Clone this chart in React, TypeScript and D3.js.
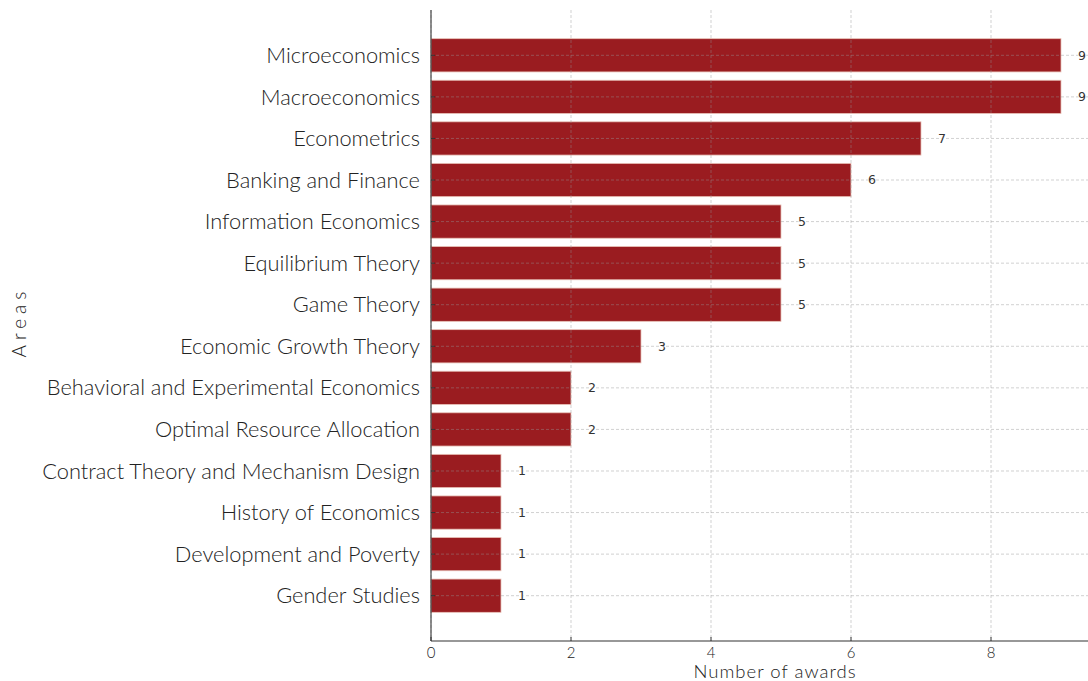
import React from "react";
import * as d3 from "d3";

const categories = [
  "Microeconomics",
  "Macroeconomics",
  "Econometrics",
  "Banking and Finance",
  "Information Economics",
  "Equilibrium Theory",
  "Game Theory",
  "Economic Growth Theory",
  "Behavioral and Experimental Economics",
  "Optimal Resource Allocation",
  "Contract Theory and Mechanism Design",
  "History of Economics",
  "Development and Poverty",
  "Gender Studies",
];
const awards = [9, 9, 7, 6, 5, 5, 5, 3, 2, 2, 1, 1, 1, 1];
const xTicks = [0, 2, 4, 6, 8];

const W = 1088;
const H = 681;
const left = 431;
const right = 1092.5;
const top = 10;
const bottom = 641;
const barH = 0.8;

export default function App() {
  const n = categories.length;
  const x = d3.scaleLinear().domain([0, 9.45]).range([left, right]);
  const pad = (n - 1 + barH) * 0.05;
  const y = d3
    .scaleLinear()
    .domain([-barH / 2 - pad, n - 1 + barH / 2 + pad])
    .range([top, bottom]);
  const bh = y(barH) - y(0);
  const labelFont = "Lato, 'Open Sans', sans-serif";
  const gridColor = "rgba(150,150,150,0.55)";

  return (
    <svg
      width={W}
      height={H}
      style={{ position: "absolute", left: 0, top: 0, background: "#fff" }}
    >
      {/* bars */}
      {awards.map((v, i) => (
        <rect
          key={"b" + i}
          x={x(0)}
          y={y(i) - bh / 2}
          width={x(v) - x(0)}
          height={bh}
          fill="#9a1c20"
          stroke="#e9c2b8"
          strokeWidth={0.8}
        />
      ))}
      {/* vertical grid */}
      {xTicks.map((t) => (
        <line
          key={"vg" + t}
          x1={x(t)}
          x2={x(t)}
          y1={top}
          y2={bottom}
          stroke={gridColor}
          strokeWidth={0.8}
          strokeDasharray="3,2"
        />
      ))}
      {/* horizontal grid */}
      {categories.map((c, i) => (
        <line
          key={"hg" + i}
          x1={left}
          x2={W}
          y1={y(i)}
          y2={y(i)}
          stroke={gridColor}
          strokeWidth={0.8}
          strokeDasharray="3,2"
        />
      ))}
      {/* value labels */}
      {awards.map((v, i) => (
        <text
          key={"v" + i}
          x={x(v) + 17}
          y={y(i)}
          dy="0.35em"
          fontFamily="'DejaVu Sans', sans-serif"
          fontSize={12.5}
          fill="#333"
          stroke="#fff"
          strokeWidth={1.5}
          paintOrder="stroke"
        >
          {v}
        </text>
      ))}
      {/* spines */}
      <line x1={left} x2={left} y1={top} y2={bottom} stroke="#333" strokeWidth={1.1} />
      <line x1={left} x2={W} y1={bottom} y2={bottom} stroke="#333" strokeWidth={1.1} />
      {/* y ticks and labels */}
      {categories.map((c, i) => (
        <g key={"yl" + i}>
          <line x1={left} x2={left + 4} y1={y(i)} y2={y(i)} stroke="#333" strokeWidth={1} />
          <text
            x={left - 11}
            y={y(i)}
            dy="0.35em"
            textAnchor="end"
            fontFamily={labelFont}
            fontWeight={300}
            fontSize={21.8}
            fill="#222"
          >
            {c}
          </text>
        </g>
      ))}
      {/* x ticks */}
      {xTicks.map((t) => (
        <g key={"xt" + t}>
          <line x1={x(t)} x2={x(t)} y1={bottom} y2={bottom - 4} stroke="#333" strokeWidth={1} />
          <text
            x={x(t)}
            y={bottom + 17}
            textAnchor="middle"
            fontFamily={labelFont}
            fontWeight={300}
            fontSize={15}
            fill="#222"
          >
            {t}
          </text>
        </g>
      ))}
      <text
        x={775}
        y={678}
        textAnchor="middle"
        fontFamily={labelFont}
        fontWeight={300}
        fontSize={18.5}
        letterSpacing={1}
        fill="#222"
      >
        Number of awards
      </text>
      <text
        transform={`translate(26, 322) rotate(-90)`}
        textAnchor="middle"
        fontFamily={labelFont}
        fontWeight={300}
        fontSize={19}
        letterSpacing={5}
        fill="#222"
      >
        Areas
      </text>
    </svg>
  );
}
